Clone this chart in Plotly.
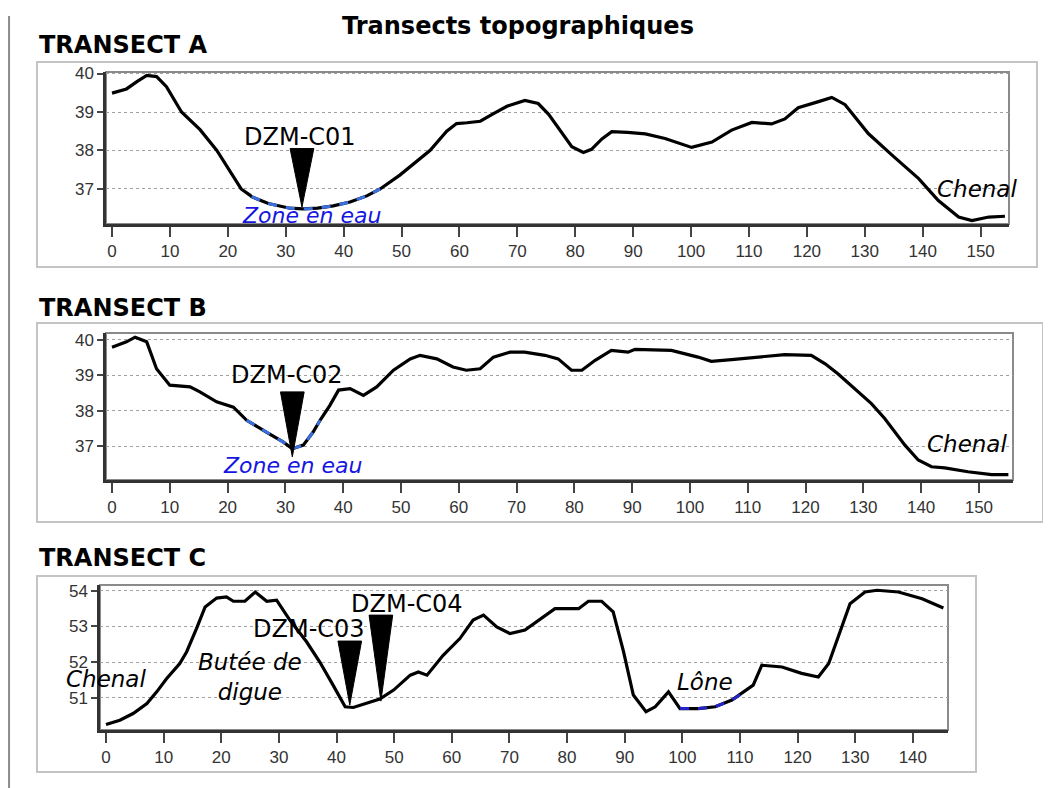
import plotly.graph_objects as go

W, H = 1051, 788
DX = 8              # horizontal page offset of the figure inside the window
DY, SY = 14, 0.99   # vertical page offset / scale observed in the photograph

# ---------------- data ----------------
A_x = [0, 2.5, 4.3, 6.0, 7.7, 9.4, 12.0, 15.2, 18.1, 20.9, 22.3, 23.8, 24.1, 27.0, 30.7, 33.0, 35.5,
       38.2, 41.1, 44.0, 46.3, 49.7, 53.2, 54.9, 57.8, 59.5, 61.3, 63.6, 65.8, 68.2, 71.3, 73.6,
       75.4, 77.1, 79.4, 81.4, 82.8, 84.6, 86.3, 89.0, 92.1, 95.5, 100.1, 103.6, 107.0, 110.5,
       113.9, 116.2, 118.5, 122.0, 124.3, 126.6, 130.6, 134.7, 139.3, 142.7, 146.2, 148.5, 151.4, 154.2]
A_y = [39.49, 39.6, 39.79, 39.95, 39.92, 39.66, 39.0, 38.54, 38.0, 37.35, 37.0, 36.84, 36.8, 36.62,
       36.5, 36.48, 36.5, 36.56, 36.66, 36.82, 37.0, 37.36, 37.79, 38.0, 38.5, 38.7, 38.72, 38.76,
       38.95, 39.15, 39.3, 39.22, 38.94, 38.57, 38.1, 37.95, 38.03, 38.3, 38.49, 38.47, 38.43, 38.31,
       38.08, 38.22, 38.53, 38.73, 38.69, 38.82, 39.11, 39.27, 39.38, 39.19, 38.44, 37.88, 37.27,
       36.7, 36.27, 36.18, 36.27, 36.29]

B_x = [0, 2.5, 4.0, 6.0, 6.85, 7.7, 10.0, 13.5, 15.2, 18.1, 21.0, 23.3, 26.7, 29.6, 31.2, 33.1,
       34.8, 36.0, 37.7, 39.2, 41.2, 43.5, 45.8, 48.7, 51.6, 53.3, 56.2, 59.0, 61.3, 63.7, 66.0,
       68.9, 71.4, 74.9, 77.2, 79.5, 81.3, 83.6, 86.4, 89.3, 90.5, 96.8, 101.4, 103.7, 107.2,
       111.8, 116.4, 121.0, 123.4, 125.6, 129.1, 131.4, 133.7, 137.2, 139.5, 141.8, 144.1, 148.1,
       152.2, 155.1]
B_y = [39.79, 39.94, 40.07, 39.94, 39.56, 39.18, 38.72, 38.67, 38.53, 38.25, 38.1, 37.73, 37.4,
       37.12, 36.93, 37.03, 37.4, 37.73, 38.15, 38.58, 38.62, 38.43, 38.67, 39.14, 39.46, 39.56,
       39.46, 39.23, 39.14, 39.18, 39.51, 39.65, 39.65, 39.56, 39.46, 39.14, 39.14, 39.42, 39.7,
       39.65, 39.73, 39.7, 39.51, 39.39, 39.44, 39.51, 39.58, 39.56, 39.32, 39.04, 38.53, 38.2,
       37.78, 37.03, 36.61, 36.42, 36.39, 36.28, 36.2, 36.2]

C_x = [0, 2.4, 4.7, 7.1, 8.8, 10.5, 12.8, 14.0, 15.7, 17.2, 19.2, 20.9, 22.1, 24.1, 25.9, 27.9,
       29.6, 31.9, 34.8, 37.1, 39.4, 41.5, 42.9, 45.2, 47.5, 49.9, 52.8, 54.2, 55.7, 58.5, 61.4,
       63.7, 65.5, 67.8, 70.1, 72.7, 75.6, 77.9, 82.0, 83.7, 86.0, 88.0, 89.8, 91.5, 93.7, 95.3,
       97.6, 99.6, 102.8, 105.7, 108.6, 111.2, 112.3, 113.8, 117.3, 120.7, 123.6, 125.4, 127.1,
       129.1, 131.7, 133.8, 137.5, 141.6, 145.3]
C_y = [50.24, 50.36, 50.55, 50.83, 51.16, 51.53, 51.96, 52.29, 52.94, 53.55, 53.8, 53.83, 53.71,
       53.71, 53.97, 53.71, 53.74, 53.18, 52.57, 52.0, 51.35, 50.74, 50.72, 50.83, 50.96, 51.21,
       51.63, 51.72, 51.63, 52.19, 52.66, 53.18, 53.32, 52.99, 52.8, 52.9, 53.22, 53.5, 53.5,
       53.71, 53.71, 53.41, 52.29, 51.07, 50.6, 50.74, 51.16, 50.69, 50.69, 50.74, 50.93, 51.21,
       51.35, 51.91, 51.86, 51.68, 51.58, 51.96, 52.75, 53.64, 53.97, 54.02, 53.97, 53.78, 53.52]

# water zones (start, end distance)
A_water = (24.1, 46.3)
B_water = (23.3, 36.0)
C_water = (99.6, 111.2)

# sampling points: name, distance, ground elevation at tip, elevation of triangle top
samples_A = [("DZM-C01", 32.8, 36.53, 38.05)]
samples_B = [("DZM-C02", 31.2, 36.70, 38.53)]
samples_C = [("DZM-C03", 42.3, 50.79, 52.59), ("DZM-C04", 47.7, 50.90, 53.32)]

A_yticks = [37, 38, 39, 40]
B_yticks = [37, 38, 39, 40]
C_yticks = [51, 52, 53, 54]

# ---------------- layout geometry (pixels of the reference) ----------------
panels = [
    dict(name="TRANSECT A", x=A_x, y=A_y, water=A_water, samples=samples_A, yticks=A_yticks,
         px=(106, 1009), py=(70, 222), xr=(-1.04, 154.9), yr=(36.09, 40.04),
         box=(37, 60, 1037, 265), label_y=43, wcol="#3a6fe0"),
    dict(name="TRANSECT B", x=B_x, y=B_y, water=B_water, samples=samples_B, yticks=B_yticks,
         px=(106, 1013), py=(331, 478), xr=(-1.04, 155.9), yr=(36.05, 40.19),
         box=(37, 321, 1043, 520), label_y=306, wcol="#3a6fe0"),
    dict(name="TRANSECT C", x=C_x, y=C_y, water=C_water, samples=samples_C, yticks=C_yticks,
         px=(100, 948), py=(583, 728), xr=(-1.04, 146.1), yr=(50.09, 54.17),
         box=(37, 574, 976, 770), label_y=556, wcol="#2424c8"),
]

def fx(p):
    return (p - DX) / W

def fy(p):
    return 1 - ((p - DY) / SY) / H

fig = go.Figure()
shapes = []
annotations = []
layout = {}

# figure frame line on the left
shapes.append(dict(type="line", xref="paper", yref="paper", x0=0.001, x1=0.001, y0=0, y1=1,
                   line=dict(color="#8c8c8c", width=2)))

TICKFONT = dict(family="Liberation Sans", size=17, color="#333333")

for i, p in enumerate(panels, start=1):
    xa = "x" if i == 1 else f"x{i}"
    ya = "y" if i == 1 else f"y{i}"
    xk = "xaxis" if i == 1 else f"xaxis{i}"
    yk = "yaxis" if i == 1 else f"yaxis{i}"

    # outer panel box
    bx0, by0, bx1, by1 = p["box"]
    shapes.append(dict(type="rect", xref="paper", yref="paper", layer="below",
                       x0=fx(bx0), x1=fx(bx1), y0=fy(by1), y1=fy(by0),
                       fillcolor="white", line=dict(color="#c4c4c4", width=2)))
    # plot area frame
    shapes.append(dict(type="rect", xref=f"{xa} domain", yref=f"{ya} domain", layer="below",
                       x0=0, x1=1, y0=0, y1=1, line=dict(color="#8a8a8a", width=2)))

    layout[xk] = dict(domain=[fx(p["px"][0]), fx(p["px"][1])], range=list(p["xr"]), anchor=ya,
                      dtick=10, tick0=0, showgrid=False, zeroline=False,
                      showline=True, linecolor="#333333", linewidth=2.5,
                      ticks="outside", ticklen=10, tickwidth=1.5, tickcolor="#444444",
                      tickfont=TICKFONT)
    layout[yk] = dict(domain=[fy(p["py"][1]), fy(p["py"][0])], range=list(p["yr"]), anchor=xa,
                      tickvals=p["yticks"], showgrid=True, gridcolor="#a0a0a0", griddash="dot",
                      gridwidth=1, zeroline=False, showline=True, linecolor="#333333",
                      linewidth=2.5, ticks="outside", ticklen=6, tickwidth=1.5, tickcolor="#444444",
                      tickfont=TICKFONT)

    # profile
    fig.add_trace(go.Scatter(x=p["x"], y=p["y"], mode="lines", xaxis=xa, yaxis=ya,
                             line=dict(color="black", width=3.2), showlegend=False, hoverinfo="x+y"))
    # water zone overlay
    w0, w1 = p["water"]
    wx = [a for a in p["x"] if w0 <= a <= w1]
    wy = [b for a, b in zip(p["x"], p["y"]) if w0 <= a <= w1]
    fig.add_trace(go.Scatter(x=wx, y=wy, mode="lines", xaxis=xa, yaxis=ya,
                             line=dict(color=p["wcol"], width=3, dash="dash"),
                             showlegend=False, hoverinfo="skip"))
    # sample triangles
    for name, sx, tip, top in p["samples"]:
        hw = 2.05
        fig.add_trace(go.Scatter(x=[sx - hw, sx + hw, sx, sx - hw], y=[top, top, tip, top],
                                 mode="lines", fill="toself", fillcolor="black",
                                 line=dict(color="black", width=1), xaxis=xa, yaxis=ya,
                                 showlegend=False, hoverinfo="skip"))

    annotations.append(dict(xref="paper", yref="paper", x=fx(37), y=fy(p["label_y"]),
                            xanchor="left", yanchor="middle", showarrow=False,
                            text="<b>" + p["name"] + "</b>",
                            font=dict(family="DejaVu Sans", size=24, color="black")))

def ann(i, x, y, text, color="black", italic=False, size=23):
    xa = "x" if i == 1 else f"x{i}"
    ya = "y" if i == 1 else f"y{i}"
    t = f"<i>{text}</i>" if italic else text
    annotations.append(dict(xref=xa, yref=ya, x=x, y=y, text=t, showarrow=False,
                            xanchor="center", yanchor="middle",
                            font=dict(family="DejaVu Sans", size=size, color=color)))

# sample labels
ann(1, 32.5, 38.36, samples_A[0][0], size=24)
ann(2, 30.2, 39.0, samples_B[0][0], size=24)
ann(3, 35.2, 52.94, samples_C[0][0], size=24)
ann(3, 52.3, 53.64, samples_C[1][0], size=24)
# other labels
ann(1, 34.4, 36.32, "Zone en eau", color="#1616e0", italic=True, size=22)
ann(2, 31.2, 36.47, "Zone en eau", color="#1616e0", italic=True, size=22)
ann(1, 149.4, 37.0, "Chenal", italic=True)
ann(2, 147.9, 37.07, "Chenal", italic=True)
ann(3, 0.0, 51.53, "Chenal", italic=True)
ann(3, 25.0, 51.58, "Butée de<br>digue", italic=True)
ann(3, 104.0, 51.44, "Lône", italic=True)

annotations.append(dict(xref="paper", yref="paper", x=fx(518), y=fy(24), xanchor="center",
                        yanchor="middle", showarrow=False, text="<b>Transects topographiques</b>",
                        font=dict(family="DejaVu Sans", size=24, color="black")))

fig.update_layout(width=W, height=H, margin=dict(l=0, r=0, t=0, b=0),
                  paper_bgcolor="white", plot_bgcolor="#e1e1e1",
                  shapes=shapes, annotations=annotations, showlegend=False, **layout)

fig.write_html("out.html")
